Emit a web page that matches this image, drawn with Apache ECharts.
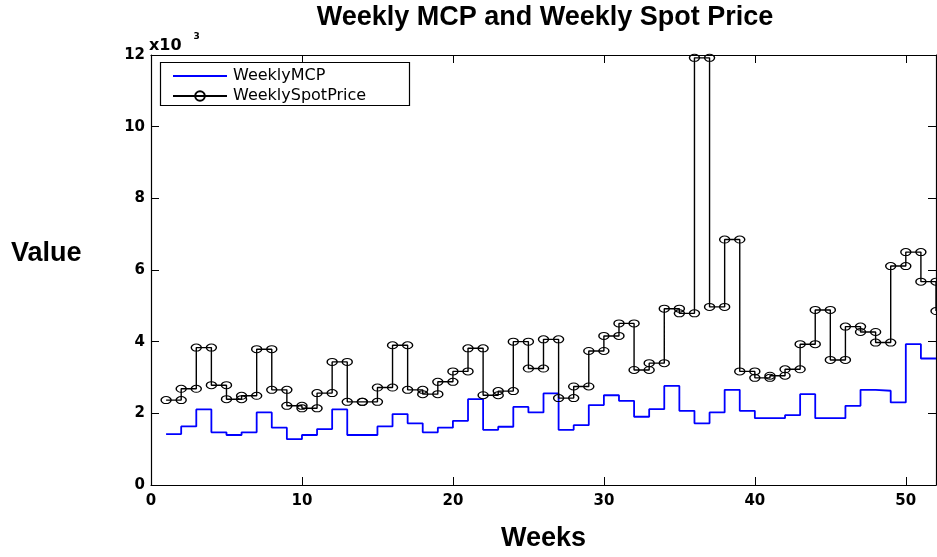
<!DOCTYPE html>
<html>
<head>
<meta charset="utf-8">
<title>Weekly MCP and Weekly Spot Price</title>
<script src="https://cdn.jsdelivr.net/npm/echarts@6/dist/echarts.min.js"></script>
<style>
  html, body { margin: 0; padding: 0; background: #fff; }
  #chart { width: 937px; height: 557px; }
</style>
</head>
<body>
<div id="chart"></div>
<script>
// Week numbers (x positions of the stairs)
const weeks = [1, 2, 3, 4, 5, 6, 7, 8, 9, 10, 11, 12, 13, 14, 15, 16, 17, 18, 19, 20,
  21, 22, 23, 24, 25, 26, 27, 28, 29, 30, 31, 32, 33, 34, 35, 36, 37, 38, 39, 40,
  41, 42, 43, 44, 45, 46, 47, 48, 49, 50, 51, 52];

// Weekly market clearing price
const weeklyMCP = [1420, 1635, 2110, 1470, 1395, 1470, 2025, 1600, 1280, 1395,
  1560, 2110, 1395, 1395, 1635, 1980, 1720, 1470, 1600, 1790,
  2395, 1540, 1625, 2180, 2025, 2555, 1540, 1670, 2230, 2505,
  2350, 1905, 2115, 2765, 2070, 1720, 2025, 2655, 2070, 1865,
  1865, 1950, 2535, 1865, 1865, 2210, 2655, 2630, 2305, 3930,
  3530, 3530];

// Weekly spot price
const weeklySpotPrice = [2370, 2685, 3835, 2785, 2395, 2490, 3790, 2655, 2210, 2140,
  2565, 3435, 2320, 2320, 2720, 3900, 2655, 2535, 2880, 3170,
  3815, 2505, 2620, 4000, 3250, 4065, 2425, 2750, 3740, 4160,
  4510, 3210, 3400, 4920, 4790, 11920, 4970, 6850, 3170, 2990,
  3050, 3230, 3930, 4885, 3490, 4420, 4270, 3975, 6110, 6500,
  5675, 4855];

// Axis ticks
const xTicks = [0, 10, 20, 30, 40, 50];
const yTicks = [0, 2, 4, 6, 8, 10, 12];   // in thousands

const seriesNames = ['WeeklyMCP', 'WeeklySpotPrice'];

// Stair vertices with a marker at both ends of every step
function stairPoints(xs, ys) {
  const pts = [];
  for (let i = 0; i < xs.length - 1; i++) {
    pts.push([xs[i], ys[i]]);
    pts.push([xs[i + 1], ys[i]]);
  }
  pts.push([xs[xs.length - 1], ys[ys.length - 1]]);
  return pts;
}

const mcpData = weeks.map((w, i) => [w, weeklyMCP[i]]);
const spotData = stairPoints(weeks, weeklySpotPrice);

const tickFont = { fontFamily: 'DejaVu Sans', fontWeight: 'bold', fontSize: 15, color: '#000' };
const bigFont = { fontFamily: 'Liberation Sans, Arial, sans-serif', fontWeight: 'bold', fontSize: 27, color: '#000' };

const xMin = 0, xMax = 52, xStep = 10;
const yMin = 0, yMax = 12000, yStep = 2000;

const chart = echarts.init(document.getElementById('chart'), null, { renderer: 'canvas' });

const baseX = {
  type: 'value', min: xMin, max: xMax, interval: xStep,
  splitLine: { show: false },
  axisLine: { show: true, onZero: false, lineStyle: { color: '#000', width: 1.2 } },
  axisTick: { show: true, inside: true, length: 8, lineStyle: { color: '#000', width: 1 } }
};
const baseY = {
  type: 'value', min: yMin, max: yMax, interval: yStep,
  splitLine: { show: false },
  axisLine: { show: true, onZero: false, lineStyle: { color: '#000', width: 1.2 } },
  axisTick: { show: true, inside: true, length: 8, lineStyle: { color: '#000', width: 1 } }
};

chart.setOption({
  animation: false,
  backgroundColor: '#fff',
  title: [
    {
      text: 'Weekly MCP and Weekly Spot Price',
      left: 545, top: 4, textAlign: 'center', padding: 0,
      textStyle: bigFont
    },
    {
      text: 'Value',
      left: 11, top: 240, padding: 0,
      textStyle: bigFont
    },
    {
      // y-axis scale factor
      text: '{a|x10}{b|3}',
      left: 149, top: 32, padding: 0,
      textStyle: {
        rich: {
          a: { fontFamily: 'DejaVu Sans', fontWeight: 'bold', fontSize: 16, lineHeight: 22, verticalAlign: 'bottom', color: '#000' },
          b: { fontFamily: 'DejaVu Sans', fontWeight: 'bold', fontSize: 9, lineHeight: 22, verticalAlign: 'top', color: '#000', padding: [0, 0, 0, 12] }
        }
      }
    }
  ],
  grid: { left: 151, top: 55, width: 785, height: 431, show: false },
  legend: {
    orient: 'vertical',
    left: 172, top: 68,
    padding: 0,
    z: 20,
    itemWidth: 54, itemHeight: 12, itemGap: 4,
    data: [
      { name: seriesNames[0], itemStyle: { opacity: 0 } },
      { name: seriesNames[1] }
    ],
    textStyle: { fontFamily: 'DejaVu Sans', fontSize: 16, lineHeight: 16, color: '#000', padding: [0, 0, 0, 1] }
  },
  graphic: [
    {
      type: 'rect', z: 10,
      shape: { x: 160.5, y: 62.5, width: 249, height: 43 },
      style: { fill: '#fff', stroke: '#000', lineWidth: 1.2 }
    }
  ],
  xAxis: [
    Object.assign({}, baseX, {
      position: 'bottom',
      name: 'Weeks', nameLocation: 'middle', nameGap: 40,
      nameTextStyle: bigFont,
      axisLabel: Object.assign({ margin: 9, showMaxLabel: false,
        formatter: v => (xTicks.indexOf(v) >= 0 ? String(v) : '') }, tickFont)
    }),
    Object.assign({}, baseX, {
      position: 'top',
      axisLabel: { show: false }
    })
  ],
  yAxis: [
    Object.assign({}, baseY, {
      position: 'left',
      axisLabel: Object.assign({ margin: 6,
        formatter: v => { const t = v / 1000; return yTicks.indexOf(t) >= 0 ? String(t) : ''; } }, tickFont)
    }),
    Object.assign({}, baseY, {
      position: 'right',
      axisLabel: { show: false }
    })
  ],
  series: [
    {
      name: seriesNames[0],
      type: 'line',
      step: 'end',
      data: mcpData,
      symbol: 'none',
      color: '#0000ff',
      lineStyle: { color: '#0000ff', width: 1.8 },
      z: 3
    },
    {
      name: seriesNames[1],
      type: 'line',
      data: spotData,
      symbol: 'circle',
      symbolSize: [10, 7],
      showSymbol: true,
      showAllSymbol: true,
      color: '#000',
      lineStyle: { color: '#000', width: 1.4 },
      itemStyle: { color: 'rgba(255,255,255,0)', borderColor: '#000', borderWidth: 1.2 },
      z: 4
    }
  ]
});
</script>
</body>
</html>
